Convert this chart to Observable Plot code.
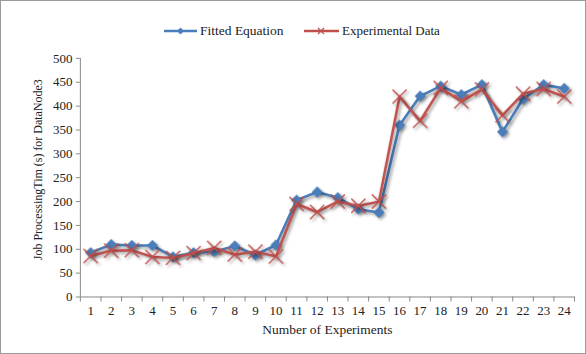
<!DOCTYPE html>
<html>
<head>
<meta charset="utf-8">
<script src="https://cdn.jsdelivr.net/npm/d3@7"></script>
<script src="https://cdn.jsdelivr.net/npm/@observablehq/plot@0.6"></script>
<style>
  html, body { margin: 0; padding: 0; background: #fff; }
  #wrap { position: relative; width: 586px; height: 354px; box-sizing: border-box; border: 1px solid #9a9a9a; overflow: hidden; font-family: "Liberation Serif", "Times New Roman", Times, "DejaVu Serif", serif; }
  #chart { position: absolute; left: -1px; top: -1px; }
  #chart svg text { font-family: "Liberation Serif", "Times New Roman", Times, "DejaVu Serif", serif; }
  #legend { position: absolute; top: 21px; left: 0; width: 586px; height: 18px; font-size: 13px; color: #222; }
  .item { position: absolute; top: 0; display: flex; align-items: center; height: 18px; }
  .item svg { margin-right: 2px; }
</style>
</head>
<body>
<div id="wrap">
  <div id="chart"></div>
  <div id="legend">
    <div class="item" style="left:162px">
      <svg width="35" height="12"><line x1="1" y1="6" x2="34" y2="6" stroke="#4a7ebb" stroke-width="2.5"/><path d="M17.5,2.5 L21,6 L17.5,9.5 L14,6Z" fill="#4a7ebb"/></svg>
      <span style="font-size:13.5px">Fitted Equation</span>
    </div>
    <div class="item" style="left:302px">
      <svg width="37" height="12"><line x1="1" y1="6" x2="36" y2="6" stroke="#c0504d" stroke-width="2.5"/><path d="M15,3 L21,9 M21,3 L15,9" stroke="#c0504d" stroke-width="1.3"/></svg>
      <span>Experimental Data</span>
    </div>
  </div>
</div>
<script>
const experiments = d3.range(1, 25);
const fitted = [93, 110, 108, 108, 84, 93, 95, 107, 88, 109, 203, 220, 208, 184, 177, 360, 421, 442, 424, 445, 346, 415, 445, 437];
const experimental = [86, 97, 98, 84, 82, 92, 103, 89, 95, 85, 195, 178, 200, 191, 200, 420, 369, 438, 410, 435, 381, 426, 436, 420];
const yTicks = [0, 50, 100, 150, 200, 250, 300, 350, 400, 450, 500];
const xBoundaries = d3.range(0.5, 25, 1);

const blue = "#4a7ebb";
const red = "#c0504d";
const serif = "'Liberation Serif', 'Times New Roman', Times, 'DejaVu Serif', serif";

const fittedRows = experiments.map((x, i) => ({x, y: fitted[i]}));
const expRows = experiments.map((x, i) => ({x, y: experimental[i]}));

const chart = Plot.plot({
  width: 586,
  height: 354,
  marginTop: 58,
  marginBottom: 57,
  marginLeft: 80,
  marginRight: 11,
  style: {fontFamily: serif, fontSize: "13px", color: "#222", background: "transparent"},
  x: {type: "linear", domain: [0.5, 24.5]},
  y: {domain: [0, 500]},
  marks: [
    Plot.axisY(yTicks, {tickSize: 4, tickPadding: 4, stroke: "#888", fill: "#222", label: null, fontSize: 13}),
    Plot.axisX(xBoundaries, {tickSize: 5, stroke: "#888", tickFormat: () => "", label: null}),
    Plot.axisX(experiments, {tickSize: 0, tickPadding: 9, fill: "#222", label: null, fontSize: 13}),
    Plot.ruleX([0.5], {stroke: "#888", strokeWidth: 1}),
    Plot.ruleY([0], {stroke: "#888", strokeWidth: 1}),
    Plot.line(fittedRows, {x: "x", y: "y", stroke: blue, strokeWidth: 2.6}),
    Plot.dot(fittedRows, {x: "x", y: "y", symbol: "diamond2", r: 5, fill: blue, stroke: "none"}),
    Plot.line(expRows, {x: "x", y: "y", stroke: red, strokeWidth: 2.6}),
    Plot.dot(expRows, {x: "x", y: "y", symbol: "times", r: 6.5, stroke: red, strokeWidth: 1.4}),
    Plot.text(["Number of Experiments"], {frameAnchor: "bottom", dy: 37, fill: "#222", fontSize: 13.5}),
    Plot.text(["Job ProcessingTim (s) for DataNode3"], {frameAnchor: "left", textAnchor: "middle", dx: -42, dy: -8, rotate: -90, fill: "#222", fontSize: 12})
  ]
});
d3.select(chart).selectAll("g[aria-label='line'], g[aria-label='dot']").style("filter", "drop-shadow(2px 2px 1.5px rgba(0,0,0,0.35))");
document.getElementById("chart").appendChild(chart);
</script>
</body>
</html>
